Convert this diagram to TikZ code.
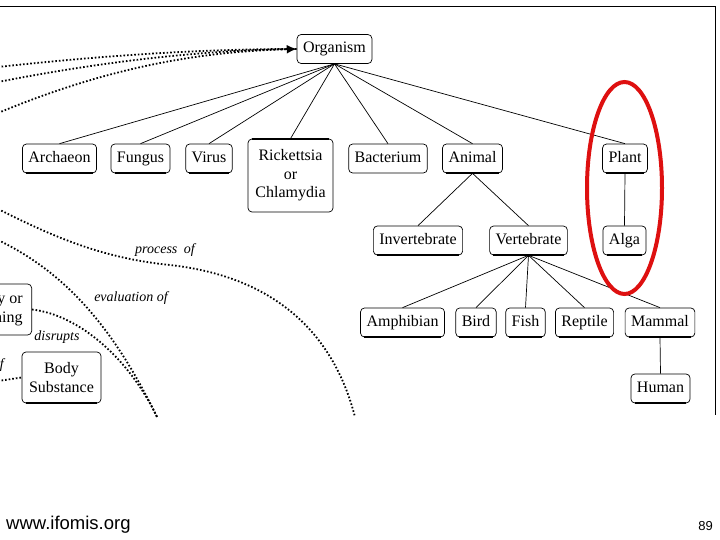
\documentclass[tikz,border=0pt]{standalone}
\usepackage{fontspec}
\setmainfont{Liberation Serif}
\newfontfamily\footfont{Liberation Sans}
\usetikzlibrary{arrows.meta}
\definecolor{ringred}{RGB}{222,16,16}
\begin{document}
\begin{tikzpicture}[x=1pt,y=-1pt,
  box/.style={draw, rounded corners=4pt, line width=0.7pt, inner xsep=6pt, inner ysep=3pt,
    minimum height=29pt, font=\fontsize{16}{18.5}\selectfont, align=center},
  sbox/.style={box, text height=11.5pt, text depth=3.5pt},
  link/.style={line width=0.7pt},
  rel/.style={line width=1.8pt, dash pattern=on 1.6pt off 2pt},
  lab/.style={font=\fontsize{14}{16}\selectfont\itshape, inner sep=0pt},
  shadowedge/.style={line width=1.8pt}]
\useasboundingbox (0,0) rectangle (720,540);
\begin{scope}
\clip (0,0) rectangle (720,540);
\draw[line width=0.8pt] (0,6) -- (715.5,6) -- (715.5,415);

% nodes
\node[sbox] (org) at (334.5,49) {Organism};
\node[sbox] (arch) at (59.5,158.5) {Archaeon};
\node[sbox] (fung) at (140.5,158.5) {Fungus};
\node[sbox] (vir) at (209,158.5) {Virus};
\node[box, minimum width=85pt, minimum height=73pt] (rick) at (290.5,175.5) {Rickettsia\\or\\Chlamydia};
\node[sbox] (bact) at (388,158.5) {Bacterium};
\node[sbox] (anim) at (472.5,158.5) {Animal};
\node[sbox] (plant) at (625,158.5) {Plant};
\node[sbox] (inv) at (418,240.5) {Invertebrate};
\node[sbox] (vert) at (528.5,240.5) {Vertebrate};
\node[sbox] (alga) at (624.5,240.5) {Alga};
\node[sbox] (amph) at (402.5,322.5) {Amphibian};
\node[sbox] (bird) at (476,322.5) {Bird};
\node[sbox] (fish) at (525.5,322.5) {Fish};
\node[sbox] (rept) at (584.5,322.5) {Reptile};
\node[sbox] (mamm) at (660,322.5) {Mammal};
\node[sbox] (hum) at (660.5,388.5) {Human};
\node[box, minimum width=79pt, minimum height=51pt] (body) at (61.5,377.5) {Body\\Substance};
\node[box, anchor=east, align=right, minimum height=51pt, inner xsep=9pt] (act) at (32,309.5) {Activity or\\Something};

% shadow edges
\foreach \n in {arch,fung,vir,anim,plant,inv,vert,alga,amph,bird,fish,rept,mamm,hum,body}
  \draw[shadowedge] ([xshift=4pt]\n.south west) -- ([xshift=-4pt]\n.south east);
\draw[shadowedge] ([xshift=4pt]rick.north west) -- ([xshift=-4pt]rick.north east);

% tree links
\foreach \c in {arch,fung,vir,rick,bact,anim,plant}
  \draw[link] (org.south) -- (\c.north);
\draw[link] (anim.south) -- (inv.north);
\draw[link] (anim.south) -- (vert.north);
\draw[link] (plant.south) -- (alga.north);
\foreach \c in {amph,bird,fish,rept,mamm}
  \draw[link] (vert.south) -- (\c.north);
\draw[link] (mamm.south) -- (hum.north);

% dotted relations into Organism
\coordinate (s1) at (-2,67);
\coordinate (s2) at (-2,82);
\coordinate (s3) at (-2,113);
\draw[rel] (s1) .. controls (90,57) and (190,49) .. (org.west);
\draw[rel] (s2) .. controls (100,62) and (200,50) .. (org.west);
\draw[rel, -{Latex[length=10pt,width=9pt]}] (s3) .. controls (90,75) and (180,52) .. (org.west);

% other dotted relations
\coordinate (p0) at (-2,209);
\coordinate (pm) at (170,265);
\coordinate (p1) at (355,417);
\draw[rel] (p0) .. controls (50,235) and (100,258) .. (pm) .. controls (260,275) and (330,320) .. (p1);
\coordinate (e0) at (-2,240);
\coordinate (e1) at (157,417);
\draw[rel] (e0) .. controls (60,270) and (110,320) .. (e1);
\draw[rel] (act.east) .. controls (80,315) and (130,360) .. (e1);
\coordinate (b0) at (-2,381);
\draw[rel] (b0) -- (body.west);

% labels
\node[lab] (lp) at (165,250) {process\hspace{3pt} of};
\node[lab] (le) at (131,298) {evaluation of};
\node[lab] (ld) at (57,337) {disrupts};
\node[lab, anchor=east] (lo) at (4,365) {part of};

% red ring
\draw[ringred, line width=4pt] (624.5,188) ellipse [x radius=37.5pt, y radius=106pt];

% footer
\node[anchor=west, inner sep=0pt, font=\footfont\fontsize{18.5}{21}\selectfont] (url) at (6,525) {www.ifomis.org};
\node[anchor=east, inner sep=0pt, font=\footfont\fontsize{13}{15}\selectfont] (pg) at (713,526) {89};
\end{scope}
\end{tikzpicture}
\end{document}
